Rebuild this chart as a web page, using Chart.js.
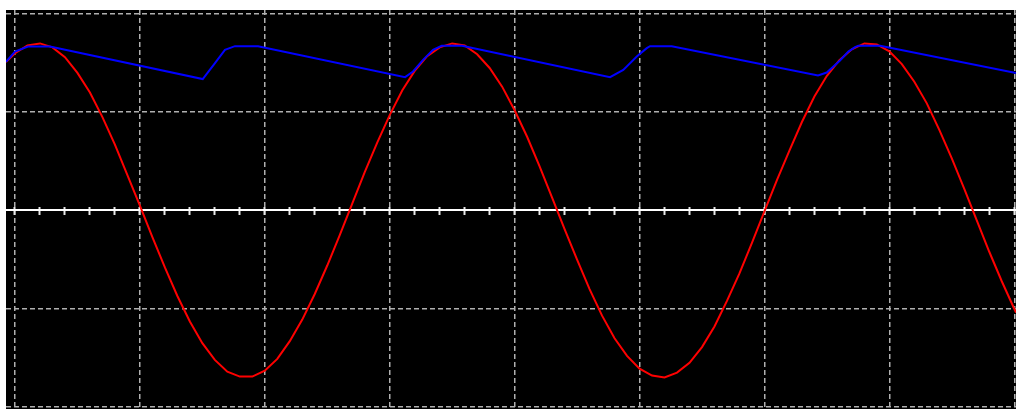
<!DOCTYPE html>
<html>
<head>
<meta charset="utf-8">
<script src="https://cdn.jsdelivr.net/npm/chart.js@4.4.1/dist/chart.umd.min.js"></script>
<style>
  html, body { margin: 0; padding: 0; background: #ffffff; }
  canvas { display: block; }
</style>
</head>
<body>
<canvas id="scopeChart" width="1016" height="409"></canvas>
<script>
// x in horizontal divisions, y in vertical divisions (scope screen)
const sampleTime = [
    -0.072, 0, 0.1, 0.2, 0.3, 0.4, 0.5, 0.6, 0.7, 0.8,
    0.9, 1.0, 1.1, 1.2, 1.3, 1.4, 1.5, 1.6, 1.7, 1.8,
    1.9, 2.0, 2.1, 2.2, 2.3, 2.4, 2.5, 2.6, 2.7, 2.8,
    2.9, 3.0, 3.1, 3.2, 3.3, 3.4, 3.5, 3.6, 3.7, 3.8,
    3.9, 4.0, 4.1, 4.2, 4.3, 4.4, 4.5, 4.6, 4.7, 4.8,
    4.9, 5.0, 5.1, 5.2, 5.3, 5.4, 5.5, 5.6, 5.7, 5.8,
    5.9, 6.0, 6.1, 6.2, 6.3, 6.4, 6.5, 6.6, 6.7, 6.8,
    6.9, 7.0, 7.1, 7.2, 7.3, 7.4, 7.5, 7.6, 7.7, 7.8,
    7.9, 8.0, 8.014
];
const inputVolts = [
    1.51, 1.60, 1.68, 1.70, 1.66, 1.56, 1.40, 1.20, 0.95, 0.67,
    0.36, 0.05, -0.27, -0.58, -0.87, -1.13, -1.35, -1.52, -1.64, -1.69,
    -1.69, -1.63, -1.51, -1.33, -1.11, -0.85, -0.56, -0.25, 0.07, 0.39,
    0.69, 0.97, 1.22, 1.42, 1.57, 1.66, 1.70, 1.68, 1.59, 1.45,
    1.26, 1.02, 0.75, 0.45, 0.13, -0.19, -0.50, -0.80, -1.07, -1.30,
    -1.48, -1.61, -1.68, -1.70, -1.65, -1.55, -1.39, -1.18, -0.92, -0.64,
    -0.33, -0.01, 0.31, 0.61, 0.90, 1.16, 1.37, 1.53, 1.64, 1.70,
    1.69, 1.62, 1.49, 1.31, 1.09, 0.82, 0.53, 0.22, -0.10, -0.42,
    -0.72, -1.00, -1.04
];
const outputTime = [
    -0.072, 0, 0.104, 0.280, 1.503, 1.601, 1.681, 1.761, 1.946, 3.123,
    3.187, 3.267, 3.347, 3.416, 3.579, 4.764, 4.870, 4.978, 5.058, 5.084,
    5.258, 6.429, 6.499, 6.605, 6.672, 6.725, 6.752, 6.926, 8.014
];
const outputVolts = [
    1.513, 1.617, 1.668, 1.668, 1.337, 1.500, 1.635, 1.672, 1.672, 1.357,
    1.414, 1.533, 1.635, 1.675, 1.675, 1.357, 1.431, 1.566, 1.652, 1.672,
    1.672, 1.374, 1.404, 1.526, 1.617, 1.662, 1.675, 1.675, 1.398
];
const divisionsX = [0, 1, 2, 3, 4, 5, 6, 7, 8];
const divisionsY = [-2, -1, 0, 1, 2];
const subDivision = 0.2;

const gridGrey = "#b0b0b0";
const xRange = { min: -0.072, max: 8.014 };
const minorTicks = Array.from({ length: 41 }, (_, i) => +(i * subDivision).toFixed(1));

// black scope screen behind the chart area
const screenBackground = {
    id: "screenBackground",
    beforeDraw(chart) {
        const { ctx, chartArea } = chart;
        ctx.save();
        ctx.fillStyle = "#000000";
        ctx.fillRect(chartArea.left, chartArea.top, chartArea.right - chartArea.left, chartArea.bottom - chartArea.top);
        ctx.restore();
    }
};

function zeroAxis(tickLength, showLine) {
    return {
        type: "linear",
        axis: "x",
        position: { y: 0 },
        min: xRange.min,
        max: xRange.max,
        afterBuildTicks: s => { s.ticks = minorTicks.map(v => ({ value: v })); },
        ticks: { display: false },
        grid: {
            drawOnChartArea: false,
            drawTicks: true,
            tickLength: tickLength,
            tickColor: "#e8e8e8",
            tickWidth: 2,
            tickBorderDash: []
        },
        border: { display: showLine, color: "#ffffff", width: 2 }
    };
}

new Chart(document.getElementById("scopeChart"), {
    type: "line",
    data: {
        datasets: [{
            label: "Output",
            data: outputTime.map((t, i) => ({ x: t, y: outputVolts[i] })),
            borderColor: "#0000ff",
            borderWidth: 2,
            pointRadius: 0,
            tension: 0,
            xAxisID: "x",
            yAxisID: "y"
        }, {
            label: "Input",
            data: sampleTime.map((t, i) => ({ x: t, y: inputVolts[i] })),
            borderColor: "#ff0000",
            borderWidth: 2,
            pointRadius: 0,
            tension: 0,
            xAxisID: "x",
            yAxisID: "y"
        }]
    },
    options: {
        responsive: false,
        animation: false,
        events: [],
        devicePixelRatio: 1,
        layout: {
            padding: { left: 6, top: 10, right: 0, bottom: 0 }
        },
        plugins: {
            legend: { display: false },
            tooltip: { enabled: false }
        },
        scales: {
            x: {
                type: "linear",
                min: xRange.min,
                max: xRange.max,
                afterBuildTicks: s => { s.ticks = divisionsX.map(v => ({ value: v })); },
                ticks: { display: false },
                grid: { color: gridGrey, lineWidth: 1.5, drawTicks: false },
                border: { display: false, dash: [5, 3] }
            },
            y: {
                type: "linear",
                min: -2.02,
                max: 2.04,
                afterBuildTicks: s => { s.ticks = divisionsY.map(v => ({ value: v })); },
                ticks: { display: false },
                grid: {
                    color: ctx => (ctx.tick && ctx.tick.value === 0) ? "rgba(0,0,0,0)" : gridGrey,
                    lineWidth: 1.5,
                    drawTicks: false
                },
                border: { display: false, dash: [5, 3] }
            },
            zeroDown: zeroAxis(4, true),
            zeroUp: zeroAxis(-3, false)
        }
    },
    plugins: [screenBackground]
});
</script>
</body>
</html>
